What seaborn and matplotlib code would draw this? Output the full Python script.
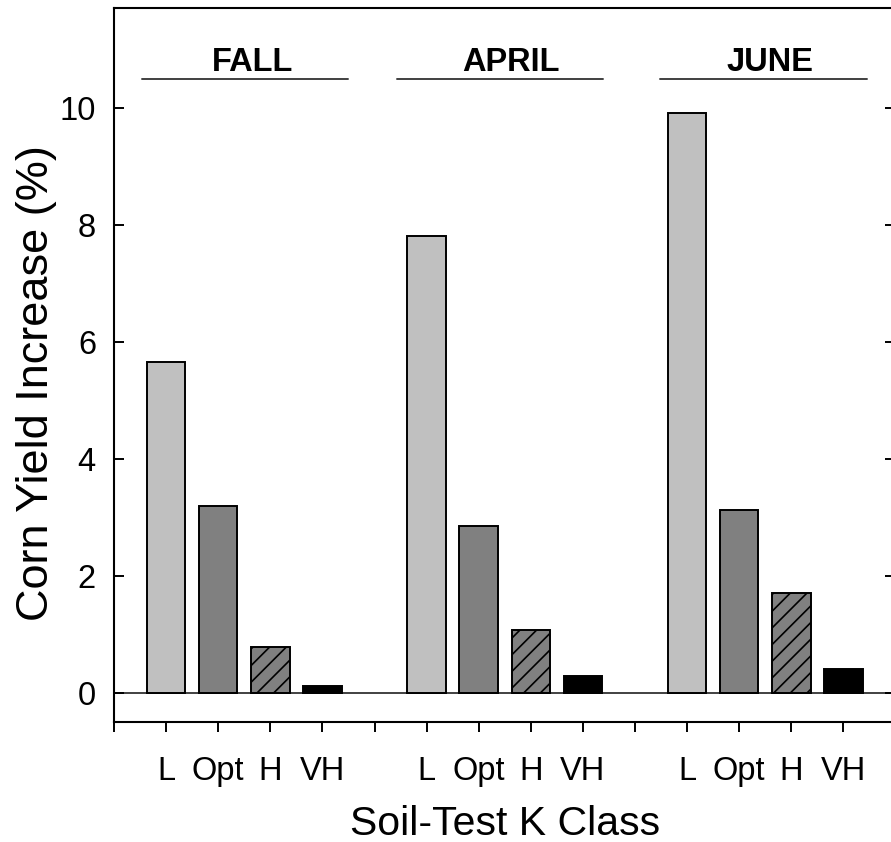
import numpy as np
import pandas as pd
import matplotlib
matplotlib.use("Agg")
import matplotlib.pyplot as plt
import seaborn as sns

# ---- data ----
periods = ["FALL", "APRIL", "JUNE"]
classes = ["L", "Opt", "H", "VH"]
fall = [5.66, 3.20, 0.79, 0.12]
april = [7.81, 2.86, 1.08, 0.28]
june = [9.91, 3.12, 1.70, 0.41]
class_colors = ["#c0c0c0", "#808080", "#808080", "#000000"]
class_hatches = ["", "", "//", ""]
ylabel = "Corn Yield Increase (%)"
xlabel = "Soil-Test K Class"
y_ticks = [0, 2, 4, 6, 8, 10]

sns.set_style("white")
plt.rcParams["font.family"] = ["Liberation Sans", "DejaVu Sans"]
plt.rcParams["hatch.linewidth"] = 1.2
plt.rcParams["hatch.color"] = "black"
plt.rcParams["text.color"] = "black"
plt.rcParams["axes.labelcolor"] = "black"

rows = []
for pi, (p, vals) in enumerate(zip(periods, [fall, april, june])):
    for ci, (c, v) in enumerate(zip(classes, vals)):
        rows.append({"period": p, "cls": c, "pos": pi * 5 + ci + 1, "value": v})
df = pd.DataFrame(rows)

fig = plt.figure(figsize=(8.91, 8.42), dpi=100)
W, H = 891, 842
ax = fig.add_axes([114 / W, (H - 722) / H, 781.5 / W, 714 / H])

ax.axhline(0, color="#333333", lw=1.3, zorder=0.5)

sns.barplot(data=df, x="pos", y="value", hue="cls", hue_order=classes,
            palette=dict(zip(classes, class_colors)), dodge=False,
            native_scale=True, width=0.74, edgecolor="black", linewidth=1.4,
            legend=False, ax=ax, zorder=2)

# hatch bars by class (class index from bar centre position)
for bar in ax.patches:
    cx = bar.get_x() + bar.get_width() / 2
    ci = int(round(cx)) % 5 - 1
    if 0 <= ci < len(classes) and class_hatches[ci]:
        bar.set_hatch(class_hatches[ci])

ax.set_xlim(0, 15)
ax.set_ylim(-0.5, 11.71)

# x ticks
xt = list(range(0, 16))
xl = ["" if t % 5 == 0 else classes[(t % 5) - 1] for t in xt]
ax.set_xticks(xt)
ax.set_xticklabels(xl)
ax.set_yticks(y_ticks)
ax.set_yticklabels([str(v) for v in y_ticks])

ax.tick_params(axis="x", direction="out", length=7.2, width=1.4, pad=17,
               labelsize=23.5, colors="black", bottom=True, top=False)
ax.tick_params(axis="y", direction="in", length=7.2, width=1.4, pad=13,
               labelsize=23.5, left=True, right=True, colors="black")

for s in ax.spines.values():
    s.set_linewidth(1.5)
    s.set_color("black")

ax.set_ylabel(ylabel, fontsize=32.5)
ax.yaxis.set_label_coords(-0.073, 0.475)
ax.set_xlabel(xlabel, fontsize=29.5, va="top")
ax.xaxis.set_label_coords(0.501, -0.116)

# period headers
head_x = [2.65, 7.62, 12.59]
line_spans = [(0.54, 4.49), (5.43, 9.39), (10.48, 14.45)]
for p, hx, (a, b) in zip(periods, head_x, line_spans):
    ax.text(hx, 10.64, p, ha="center", va="baseline", fontsize=23.5,
            fontweight="bold")
    ax.plot([a, b], [10.5, 10.5], color="#404040", lw=1.4, zorder=3)

ax.grid(False)
fig.savefig("out.png", dpi=100)
